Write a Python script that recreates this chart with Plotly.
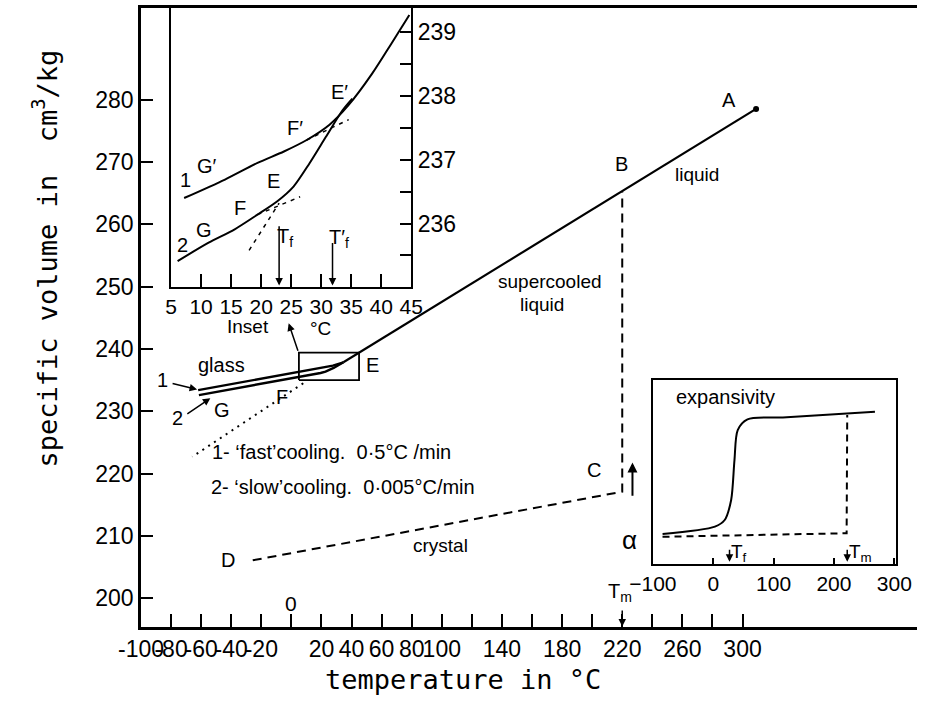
import plotly.graph_objects as go

# ---------------- main diagram: specific volume (cm3/kg) vs temperature (degC) ----------------
liquid_T = [309, 220, 45, 34.6]                 # A -> B -> E -> join of glass branches
liquid_V = [278.5, 265.3, 239.4, 237.86]
glass1_T = [34.6, 27.6, -62]                    # 'fast' cooling glass branch
glass1_V = [237.86, 237.31, 233.4]
glass2_T = [34.6, 28.1, 22.7, 19.4, -61.5]      # 'slow' cooling glass branch
glass2_V = [237.86, 236.95, 236.35, 236.14, 232.6]
extrap_T = [7.9, -65.9]                         # dotted extrapolation of the liquid line
extrap_V = [234.5, 222.7]
crystal_T = [-25.7, 220, 220]                   # D -> C -> B
crystal_V = [206.1, 217.1, 265.3]
box_T = [5, 45]                                 # region enlarged in the inset
box_V = [235.0, 239.4]
melt_T = 220

main_xticks = [-100, -80, -60, -40, -20, 20, 40, 60, 80, 100, 140, 180, 220, 260, 300]
main_xtext = ['-100', '-80', '-60', '-40', '-20', '20', '40', '60', '80', '100',
              '140', '180', '220', '260', '300']
main_xminor = [0, 120, 160, 200, 240, 280]
main_yticks = list(range(200, 281, 10))

# ---------------- inset: glass transition region ----------------
curve1_T = [7.17, 13.98, 19.4, 23.8, 27.6, 31.4, 34.6, 38.5, 41.7, 44.7]
curve1_V = [236.40, 236.69, 236.95, 237.13, 237.31, 237.55, 237.86, 238.35, 238.82, 239.27]
curve2_T = [6.08, 11.25, 15.6, 19.4, 22.7, 25.4, 28.1, 30.8, 33.6, 35.2]
curve2_V = [235.41, 235.70, 235.91, 236.14, 236.35, 236.58, 236.95, 237.36, 237.78, 237.96]
ext2g_T, ext2g_V = [19.4, 26.5], [236.14, 236.42]
ext2l_T, ext2l_V = [18.0, 23.0], [235.58, 236.32]
ext1g_T, ext1g_V = [27.6, 34.6], [237.31, 237.63]
Tf, Tf_prime = 23.0, 31.9
inset_xticks = [5, 10, 15, 20, 25, 30, 35, 40, 45]
inset_yticks = [236, 237, 238, 239]
inset_yminor = [235.5, 236.5, 237.5, 238.5]

# ---------------- expansivity panel ----------------
alpha_T = [-83.9, 2.8, 19.0, 29.7, 35.2, 40.6, 56.8, 121.8, 267.9]
alpha_v = [0.163, 0.203, 0.239, 0.348, 0.565, 0.728, 0.786, 0.797, 0.828]
base_T = [-84, 221, 222]
base_v = [0.148, 0.167, 0.81]
exp_xticks = [-100, 0, 100, 200, 300]
exp_Tf, exp_Tm = 27, 222

BLACK = 'black'
SANS = 'Liberation Sans'
MONO = 'DejaVu Sans Mono'

fig = go.Figure()


def line(x, y, xa='x', ya='y', width=2.2, dash='solid', shape='linear'):
    fig.add_trace(go.Scatter(x=x, y=y, xaxis=xa, yaxis=ya, mode='lines', hoverinfo='skip',
                             line=dict(color=BLACK, width=width, dash=dash, shape=shape,
                                       smoothing=0.8)))


# main plot marks
line(liquid_T, liquid_V)
fig.add_trace(go.Scatter(x=[liquid_T[0]], y=[liquid_V[0]], mode='markers',
                         marker=dict(color=BLACK, size=6), hoverinfo='skip'))
line(glass1_T, glass1_V, width=2.4)
line(glass2_T, glass2_V, width=2.4)
line(extrap_T, extrap_V, width=2, dash='2px,5px')
line(crystal_T, crystal_V, width=2, dash='9px,6px')
line([box_T[0], box_T[1], box_T[1], box_T[0], box_T[0]],
     [box_V[0], box_V[0], box_V[1], box_V[1], box_V[0]], width=1.8)

# inset marks
line(curve1_T, curve1_V, 'x2', 'y2', width=2, shape='spline')
line(curve2_T, curve2_V, 'x2', 'y2', width=2, shape='spline')
line(ext2g_T, ext2g_V, 'x2', 'y2', width=1.5, dash='4px,5px')
line(ext2l_T, ext2l_V, 'x2', 'y2', width=1.5, dash='4px,5px')
line(ext1g_T, ext1g_V, 'x2', 'y2', width=1.5, dash='4px,5px')

# expansivity marks
line(alpha_T, alpha_v, 'x3', 'y3', width=2, shape='spline')
line(base_T, base_v, 'x3', 'y3', width=2, dash='7px,5px')


def label(text, x, y, xref='x', yref='y', size=20, family=SANS, xanchor='center', **kw):
    return dict(text=text, x=x, y=y, xref=xref, yref=yref, showarrow=False,
                xanchor=xanchor, yanchor='middle',
                font=dict(family=family, size=size, color=BLACK), **kw)


def arrow(x, y, ax, ay, xref='x', yref='y', width=1.5):
    return dict(text='', x=x, y=y, ax=ax, ay=ay, xref=xref, yref=yref,
                axref=xref, ayref=yref, showarrow=True, arrowhead=2,
                arrowsize=1, arrowwidth=width, arrowcolor=BLACK)


ann = [
    label('A', 291.3, 280.0),
    label('B', 219.7, 269.6),
    label('liquid', 269.6, 268.0, size=19),
    label('supercooled', 171.9, 250.8, size=19),
    label('liquid', 166.4, 247.1, size=19),
    label('glass', -46.4, 237.4),
    label('E', 53.6, 237.4),
    label('1', -85.5, 235.0),
    label('2', -75.7, 228.9),
    label('G', -46.4, 230.2),
    label('F', -6.2, 232.3),
    label('1- ‘fast’cooling.  0·5°C /min', -53.9, 223.5, size=20, xanchor='left'),
    label('2- ‘slow’cooling.  0·005°C/min', -55.0, 217.9, size=20, xanchor='left'),
    label('C', 201.2, 220.6),
    label('D', -42.0, 206.1),
    label('crystal', 99.2, 208.5, size=19),
    label('α', 225.1, 209.3, size=26),
    label('0', 0, 199.2, size=21),
    label('T<sub>m</sub>', 218.5, 200.9, size=20),
    label('Inset', -29, 243.6, size=19),
    label('°C', 19.5, 243.3, size=19),
    arrow(melt_T, 195.5, melt_T, 198.3),
    arrow(-1.8, 244.1, 4.7, 239.45),
    arrow(-62.7, 233.5, -80.0, 234.5),
    arrow(-53.9, 232.1, -70.2, 229.4),
    arrow(226.8, 221.8, 226.8, 216.2, width=2),
    # inset
    label('1', 7.45, 236.69, 'x2', 'y2'),
    label('G′', 10.9, 236.9, 'x2', 'y2'),
    label('2', 6.9, 235.67, 'x2', 'y2'),
    label('G', 10.4, 235.9, 'x2', 'y2'),
    label('F', 16.4, 236.25, 'x2', 'y2'),
    label('E', 22.1, 236.66, 'x2', 'y2'),
    label('F′', 25.6, 237.5, 'x2', 'y2'),
    label('E′', 33.0, 238.07, 'x2', 'y2'),
    label('T<sub>f</sub>', 24.0, 235.78, 'x2', 'y2'),
    label('T′<sub>f</sub>', 32.9, 235.76, 'x2', 'y2'),
    arrow(Tf, 235.03, Tf, 235.98, 'x2', 'y2'),
    arrow(Tf_prime, 235.03, Tf_prime, 235.72, 'x2', 'y2'),
    # expansivity panel
    label('expansivity', 21.1, 0.905, 'x3', 'y3', size=20),
    label('T<sub>f</sub>', 43.3, 0.06, 'x3', 'y3', size=19),
    label('T<sub>m</sub>', 244, 0.06, 'x3', 'y3', size=19),
    label('T(°C) →', 146, -0.212, 'x3', 'y3', size=21),
    arrow(exp_Tf, 0.012, exp_Tf, 0.085, 'x3', 'y3'),
    arrow(exp_Tm, 0.012, exp_Tm, 0.085, 'x3', 'y3'),
    # axis titles
    label('temperature in °C', 0.4155, -0.0856, 'paper', 'paper', size=27, family=MONO),
    label('specific volume in  cm<sup>3</sup>/kg', -0.1245, 0.596, 'paper', 'paper',
          size=27, family=MONO, textangle=-90),
]

tickfont = dict(family=SANS, size=23, color=BLACK)
small_tickfont = dict(family=SANS, size=21, color=BLACK)
common = dict(showgrid=False, zeroline=False, showline=True, linecolor=BLACK,
              tickcolor=BLACK, fixedrange=True)

fig.update_layout(
    width=933, height=701,
    margin=dict(l=141, r=0, t=8, b=74),
    paper_bgcolor='white', plot_bgcolor='white',
    showlegend=False,
    annotations=ann,
    xaxis=dict(domain=[0, 1], range=[-100, 416], linewidth=2.6, mirror=True,
               ticks='inside', ticklen=13, tickwidth=1.8, tickvals=main_xticks,
               ticktext=main_xtext, tickangle=0, tickfont=tickfont,
               minor=dict(tickvals=main_xminor, ticks='inside', ticklen=13,
                          tickwidth=1.8, tickcolor=BLACK, showgrid=False),
               **common),
    yaxis=dict(domain=[0, 1], range=[195.4, 294.68], linewidth=2.6, mirror=False,
               ticks='inside', ticklen=12, tickwidth=1.8, tickvals=main_yticks,
               tickfont=tickfont, **common),
    xaxis2=dict(domain=[0.0388, 0.3481], anchor='y2', range=[5, 45], linewidth=2,
                mirror=True, ticks='inside', ticklen=13, tickwidth=1.5,
                tickvals=inset_xticks, tickangle=0, tickfont=small_tickfont, **common),
    yaxis2=dict(domain=[0.5488, 1.0], anchor='x2', side='right', range=[235.0, 239.38],
                linewidth=2, mirror=True, ticks='inside', ticklen=11, tickwidth=1.5,
                tickvals=inset_yticks, tickfont=tickfont,
                minor=dict(tickvals=inset_yminor, ticks='inside', ticklen=11,
                           tickwidth=1.5, tickcolor=BLACK, showgrid=False),
                **common),
    xaxis3=dict(domain=[0.6596, 0.9731], anchor='y3', range=[-100, 303], linewidth=2.2,
                mirror=True, ticks='inside', ticklen=6, tickwidth=1.5,
                tickvals=exp_xticks, tickangle=0, tickfont=small_tickfont, **common),
    yaxis3=dict(domain=[0.1018, 0.399], anchor='x3', range=[0, 1], linewidth=2.2,
                mirror=True, ticks='', showticklabels=False, **common),
)

fig.write_html('out.html')
